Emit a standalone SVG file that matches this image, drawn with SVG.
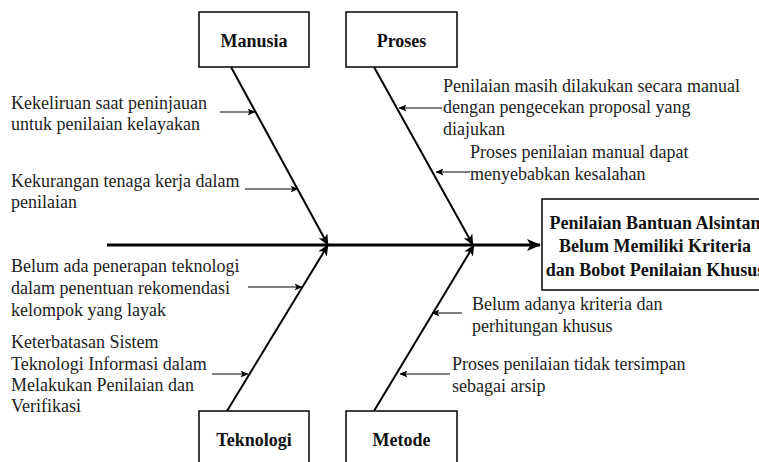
<svg xmlns="http://www.w3.org/2000/svg" width="759" height="462" viewBox="0 0 759 462">
<style>
  .box { fill: #ffffff; stroke: #000000; stroke-width: 1.5; }
  .lbl { font-family: "Liberation Serif", "DejaVu Serif", serif; font-size: 18px; font-weight: bold; fill: #111; text-anchor: middle; }
  .txt { font-family: "Liberation Serif", "DejaVu Serif", serif; font-size: 18px; fill: #222; }
  .spine { stroke: #000; stroke-width: 3; fill: none; }
  .bone { stroke: #000; stroke-width: 2; fill: none; }
  .sub { stroke: #000; stroke-width: 1; fill: none; }
</style>
<defs>
  <marker id="big" markerUnits="userSpaceOnUse" viewBox="0 0 14 12" markerWidth="14" markerHeight="12" refX="13" refY="6" orient="auto">
    <path d="M0,0 L14,6 L0,12 L3.5,6 Z" fill="#000"/>
  </marker>
  <marker id="mid" markerUnits="userSpaceOnUse" viewBox="0 0 11 10" markerWidth="11" markerHeight="10" refX="10.5" refY="5" orient="auto">
    <path d="M0,0 L11,5 L0,10 L3,5 Z" fill="#000"/>
  </marker>
  <marker id="small" markerUnits="userSpaceOnUse" viewBox="0 0 8 7" markerWidth="8" markerHeight="7" refX="7.5" refY="3.5" orient="auto">
    <path d="M0,0 L8,3.5 L0,7 L2,3.5 Z" fill="#000"/>
  </marker>
</defs>

<g id="connectors">
  <line class="spine" x1="107" y1="245" x2="540" y2="245" marker-end="url(#big)"/>
  <line class="bone" x1="231" y1="67" x2="328" y2="245" marker-end="url(#mid)"/>
  <line class="bone" x1="374" y1="67" x2="473" y2="245" marker-end="url(#mid)"/>
  <line class="bone" x1="227" y1="411" x2="328" y2="245" marker-end="url(#mid)"/>
  <line class="bone" x1="374" y1="411" x2="474" y2="245" marker-end="url(#mid)"/>
  <line class="sub" x1="220" y1="112" x2="255" y2="112" marker-end="url(#small)"/>
  <line class="sub" x1="245" y1="189" x2="298" y2="189" marker-end="url(#small)"/>
  <line class="sub" x1="442" y1="108" x2="399" y2="108" marker-end="url(#small)"/>
  <line class="sub" x1="470" y1="172" x2="436" y2="172" marker-end="url(#small)"/>
  <line class="sub" x1="248" y1="287" x2="302" y2="287" marker-end="url(#small)"/>
  <line class="sub" x1="212" y1="374" x2="248" y2="374" marker-end="url(#small)"/>
  <line class="sub" x1="462" y1="313" x2="432" y2="313" marker-end="url(#small)"/>
  <line class="sub" x1="450" y1="374" x2="400" y2="374" marker-end="url(#small)"/>
</g>

<g id="manusia">
  <rect class="box" x="199" y="12" width="110" height="55"/>
  <text class="lbl" x="254" y="47">Manusia</text>
</g>
<g id="proses">
  <rect class="box" x="346" y="12" width="111" height="55"/>
  <text class="lbl" x="401.5" y="47">Proses</text>
</g>
<g id="teknologi">
  <rect class="box" x="199" y="411" width="110" height="60"/>
  <text class="lbl" x="254" y="446">Teknologi</text>
</g>
<g id="metode">
  <rect class="box" x="346" y="411" width="111" height="60"/>
  <text class="lbl" x="401.5" y="446">Metode</text>
</g>
<g id="effect">
  <rect class="box" x="542" y="199" width="230" height="91"/>
  <text class="lbl" x="655" y="229">Penilaian Bantuan Alsintan</text>
  <text class="lbl" x="655" y="252">Belum Memiliki Kriteria</text>
  <text class="lbl" x="655" y="276">dan Bobot Penilaian Khusus</text>
</g>

<g id="cause-manusia-1">
  <text class="txt" x="11" y="109">Kekeliruan saat peninjauan</text>
  <text class="txt" x="11" y="130">untuk penilaian kelayakan</text>
</g>
<g id="cause-manusia-2">
  <text class="txt" x="11" y="187">Kekurangan tenaga kerja dalam</text>
  <text class="txt" x="11" y="208">penilaian</text>
</g>
<g id="cause-proses-1">
  <text class="txt" x="443" y="92">Penilaian masih dilakukan secara manual</text>
  <text class="txt" x="443" y="113">dengan pengecekan proposal yang</text>
  <text class="txt" x="443" y="135">diajukan</text>
</g>
<g id="cause-proses-2">
  <text class="txt" x="470" y="158">Proses penilaian manual dapat</text>
  <text class="txt" x="470" y="180">menyebabkan kesalahan</text>
</g>
<g id="cause-teknologi-1">
  <text class="txt" x="11" y="272">Belum ada penerapan teknologi</text>
  <text class="txt" x="11" y="294">dalam penentuan rekomendasi</text>
  <text class="txt" x="11" y="316">kelompok yang layak</text>
</g>
<g id="cause-teknologi-2">
  <text class="txt" x="11" y="348">Keterbatasan Sistem</text>
  <text class="txt" x="11" y="370">Teknologi Informasi dalam</text>
  <text class="txt" x="11" y="391">Melakukan Penilaian dan</text>
  <text class="txt" x="11" y="412">Verifikasi</text>
</g>
<g id="cause-metode-1">
  <text class="txt" x="472" y="310">Belum adanya kriteria dan</text>
  <text class="txt" x="472" y="332">perhitungan khusus</text>
</g>
<g id="cause-metode-2">
  <text class="txt" x="452" y="370">Proses penilaian tidak tersimpan</text>
  <text class="txt" x="452" y="392">sebagai arsip</text>
</g>
</svg>
